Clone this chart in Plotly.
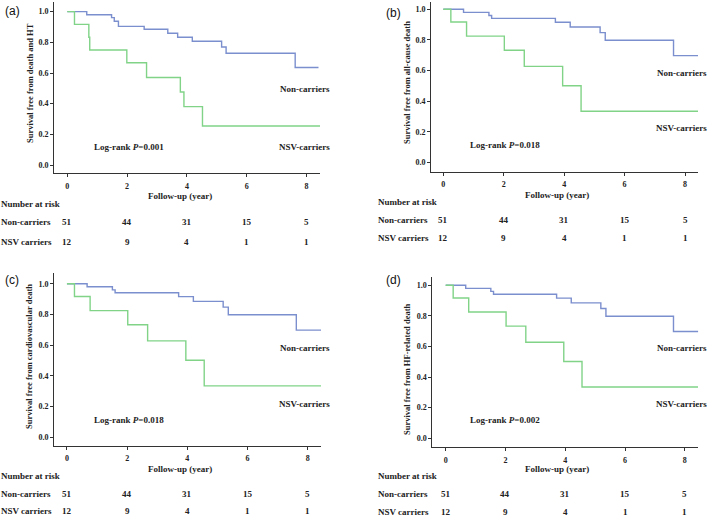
import plotly.graph_objects as go

W, H = 709, 516

# ---------------- data ----------------
panel_labels = ["(a)", "(b)", "(c)", "(d)"]
y_titles = ["Survival free from death and HT",
            "Survival free from all-cause death",
            "Survival free from cardiovascular death",
            "Survival free from HF-related death"]
pvalues = ["0.001", "0.018", "0.018", "0.002"]

# panel (a)
a_non_t = [0, 0.65, 1.48, 1.57, 1.71, 2.57, 3.36, 3.69, 4.18, 5.16, 5.31, 7.62, 8.40]
a_non_s = [1.0, 0.980, 0.961, 0.937, 0.904, 0.885, 0.859, 0.833, 0.807, 0.770, 0.729, 0.636, 0.636]
a_nsv_t = [0, 0.24, 0.72, 0.75, 1.99, 2.65, 3.78, 3.90, 4.52, 8.45]
a_nsv_s = [1.0, 0.917, 0.833, 0.750, 0.667, 0.571, 0.476, 0.381, 0.254, 0.254]

# panels (b), (c), (d)
b_non_t = [0, 0.67, 1.51, 1.60, 3.71, 4.20, 5.19, 5.36, 7.62, 8.45]
b_non_s = [1.0, 0.980, 0.960, 0.941, 0.916, 0.885, 0.848, 0.798, 0.698, 0.698]
b_nsv_t = [0, 0.25, 0.77, 2.02, 2.68, 3.95, 4.56, 8.44]
b_nsv_s = [1.0, 0.917, 0.825, 0.733, 0.628, 0.502, 0.335, 0.335]

risk_times = [0, 2, 4, 6, 8]
risk_non = [51, 44, 31, 15, 5]
risk_nsv = [12, 9, 4, 1, 1]

x_ticks = [0, 2, 4, 6, 8]
y_ticks = [0.0, 0.2, 0.4, 0.6, 0.8, 1.0]

curves = [(a_non_t, a_non_s, a_nsv_t, a_nsv_s),
          (b_non_t, b_non_s, b_nsv_t, b_nsv_s),
          (b_non_t, b_non_s, b_nsv_t, b_nsv_s),
          (b_non_t, b_non_s, b_nsv_t, b_nsv_s)]

# ---------------- layout geometry (pixels) ----------------
geo = [
    dict(xd=(54, 320), yd=(2, 173.3), xr=(-0.445, 8.45), yr=(-0.054, 1.063)),
    dict(xd=(431, 698), yd=(1.5, 171.7), xr=(-0.407, 8.43), yr=(-0.059, 1.051)),
    dict(xd=(54, 321), yd=(273, 445.7), xr=(-0.43, 8.44), yr=(-0.055, 1.07)),
    dict(xd=(432.3, 698.3), yd=(276.7, 447.3), xr=(-0.448, 8.45), yr=(-0.059, 1.056)),
]
txt = [
    dict(lab=(3, 11), ytit=(30, 83), xtit=(180, 196), non=(332, 89), nsv=(332, 147),
         lr=(92, 147), tbl_x=0, tbl_y=(203.5, 222, 242)),
    dict(lab=(384, 13), ytit=(407, 83), xtit=(557, 194.5), non=(709, 73), nsv=(709, 128),
         lr=(468, 145), tbl_x=377, tbl_y=(201.5, 219.5, 238.5)),
    dict(lab=(3, 280), ytit=(29, 357), xtit=(180, 468.5), non=(332, 348), nsv=(332, 404),
         lr=(92, 420), tbl_x=0, tbl_y=(476, 493.5, 511)),
    dict(lab=(384, 280), ytit=(407, 369), xtit=(557, 468.5), non=(709, 348), nsv=(709, 404),
         lr=(468, 420), tbl_x=377, tbl_y=(476, 494, 511.5)),
]

BLUE = "#7b8ecd"
GREEN = "#80d387"
SERIF = "Liberation Serif"
SANS = "Liberation Sans"
TXT = 9


def px(x):
    return x / W


def py(y):
    return 1 - y / H


fig = go.Figure()
annotations = []

for i in range(4):
    g = geo[i]
    t = txt[i]
    xa = "xaxis" if i == 0 else f"xaxis{i + 1}"
    ya = "yaxis" if i == 0 else f"yaxis{i + 1}"
    xref = "x" if i == 0 else f"x{i + 1}"
    yref = "y" if i == 0 else f"y{i + 1}"
    nt, ns, gt, gs = curves[i]
    fig.add_trace(go.Scatter(x=nt, y=ns, mode="lines", line=dict(color=BLUE, width=1.4, shape="hv"),
                             xaxis=xref, yaxis=yref, showlegend=False, hoverinfo="skip"))
    fig.add_trace(go.Scatter(x=gt, y=gs, mode="lines", line=dict(color=GREEN, width=1.4, shape="hv"),
                             xaxis=xref, yaxis=yref, showlegend=False, hoverinfo="skip"))

    fig.layout[xa] = dict(domain=[px(g["xd"][0]), px(g["xd"][1])], range=list(g["xr"]),
                          anchor=yref, showline=True, linecolor="#333", linewidth=1,
                          ticks="outside", ticklen=3, tickcolor="#333", tickvals=x_ticks,
                          ticklabelstandoff=2,
                          showgrid=False, zeroline=False,
                          tickfont=dict(family=SERIF, size=8, color="#222", weight="bold"))
    fig.layout[ya] = dict(domain=[py(g["yd"][1]), py(g["yd"][0])], range=list(g["yr"]),
                          anchor=xref, showline=True, linecolor="#333", linewidth=1,
                          ticks="outside", ticklen=3, tickcolor="#333", tickvals=y_ticks,
                          tickformat=".1f", showgrid=False, zeroline=False,
                          tickfont=dict(family=SERIF, size=8, color="#222", weight="bold"))

    annotations.append(dict(text=panel_labels[i], x=px(t["lab"][0]), y=py(t["lab"][1]),
                            xref="paper", yref="paper", xanchor="left", yanchor="middle",
                            showarrow=False, font=dict(family=SANS, size=12, color="#111")))
    annotations.append(dict(text="<b>" + y_titles[i] + "</b>", x=px(t["ytit"][0]), y=py(t["ytit"][1]),
                            xref="paper", yref="paper", xanchor="center", yanchor="middle",
                            textangle=-90, showarrow=False, borderpad=0,
                            font=dict(family=SERIF, size=8.5, color="#222")))
    annotations.append(dict(text="<b>Follow-up (year)</b>", x=px(t["xtit"][0]), y=py(t["xtit"][1]),
                            xref="paper", yref="paper", xanchor="center", yanchor="middle",
                            showarrow=False, borderpad=0,
                            font=dict(family=SERIF, size=TXT, color="#222")))
    annotations.append(dict(text="<b>Non-carriers</b>", x=px(t["non"][0]), y=py(t["non"][1]),
                            xref="paper", yref="paper", xanchor="right", yanchor="middle",
                            showarrow=False, font=dict(family=SERIF, size=TXT, color="#222")))
    annotations.append(dict(text="<b>NSV-carriers</b>", x=px(t["nsv"][0]), y=py(t["nsv"][1]),
                            xref="paper", yref="paper", xanchor="right", yanchor="middle",
                            showarrow=False, font=dict(family=SERIF, size=TXT, color="#222")))
    annotations.append(dict(text="<b>Log-rank <i>P</i>=" + pvalues[i] + "</b>",
                            x=px(t["lr"][0]), y=py(t["lr"][1]),
                            xref="paper", yref="paper", xanchor="left", yanchor="middle",
                            showarrow=False, font=dict(family=SERIF, size=TXT, color="#222")))
    ty = t["tbl_y"]
    for lbl, yy in zip(["Number at risk", "Non-carriers", "NSV carriers"], ty):
        annotations.append(dict(text="<b>" + lbl + "</b>", x=px(t["tbl_x"]), y=py(yy),
                                xref="paper", yref="paper", xanchor="left", yanchor="middle",
                                showarrow=False, borderpad=0,
                                font=dict(family=SERIF, size=TXT, color="#222")))
    for tm, n1, n2 in zip(risk_times, risk_non, risk_nsv):
        annotations.append(dict(text="<b>%d</b>" % n1, x=tm, y=py(ty[1]), xref=xref, yref="paper",
                                xanchor="center", yanchor="middle", showarrow=False,
                                font=dict(family=SERIF, size=TXT, color="#222")))
        annotations.append(dict(text="<b>%d</b>" % n2, x=tm, y=py(ty[2]), xref=xref, yref="paper",
                                xanchor="center", yanchor="middle", showarrow=False,
                                font=dict(family=SERIF, size=TXT, color="#222")))

fig.update_layout(width=W, height=H, margin=dict(l=0, r=0, t=0, b=0),
                  paper_bgcolor="white", plot_bgcolor="white",
                  annotations=annotations, showlegend=False)

fig.write_html("out.html", config={"displayModeBar": False},
               post_script="document.body.style.margin='0';document.body.style.overflow='hidden';")
